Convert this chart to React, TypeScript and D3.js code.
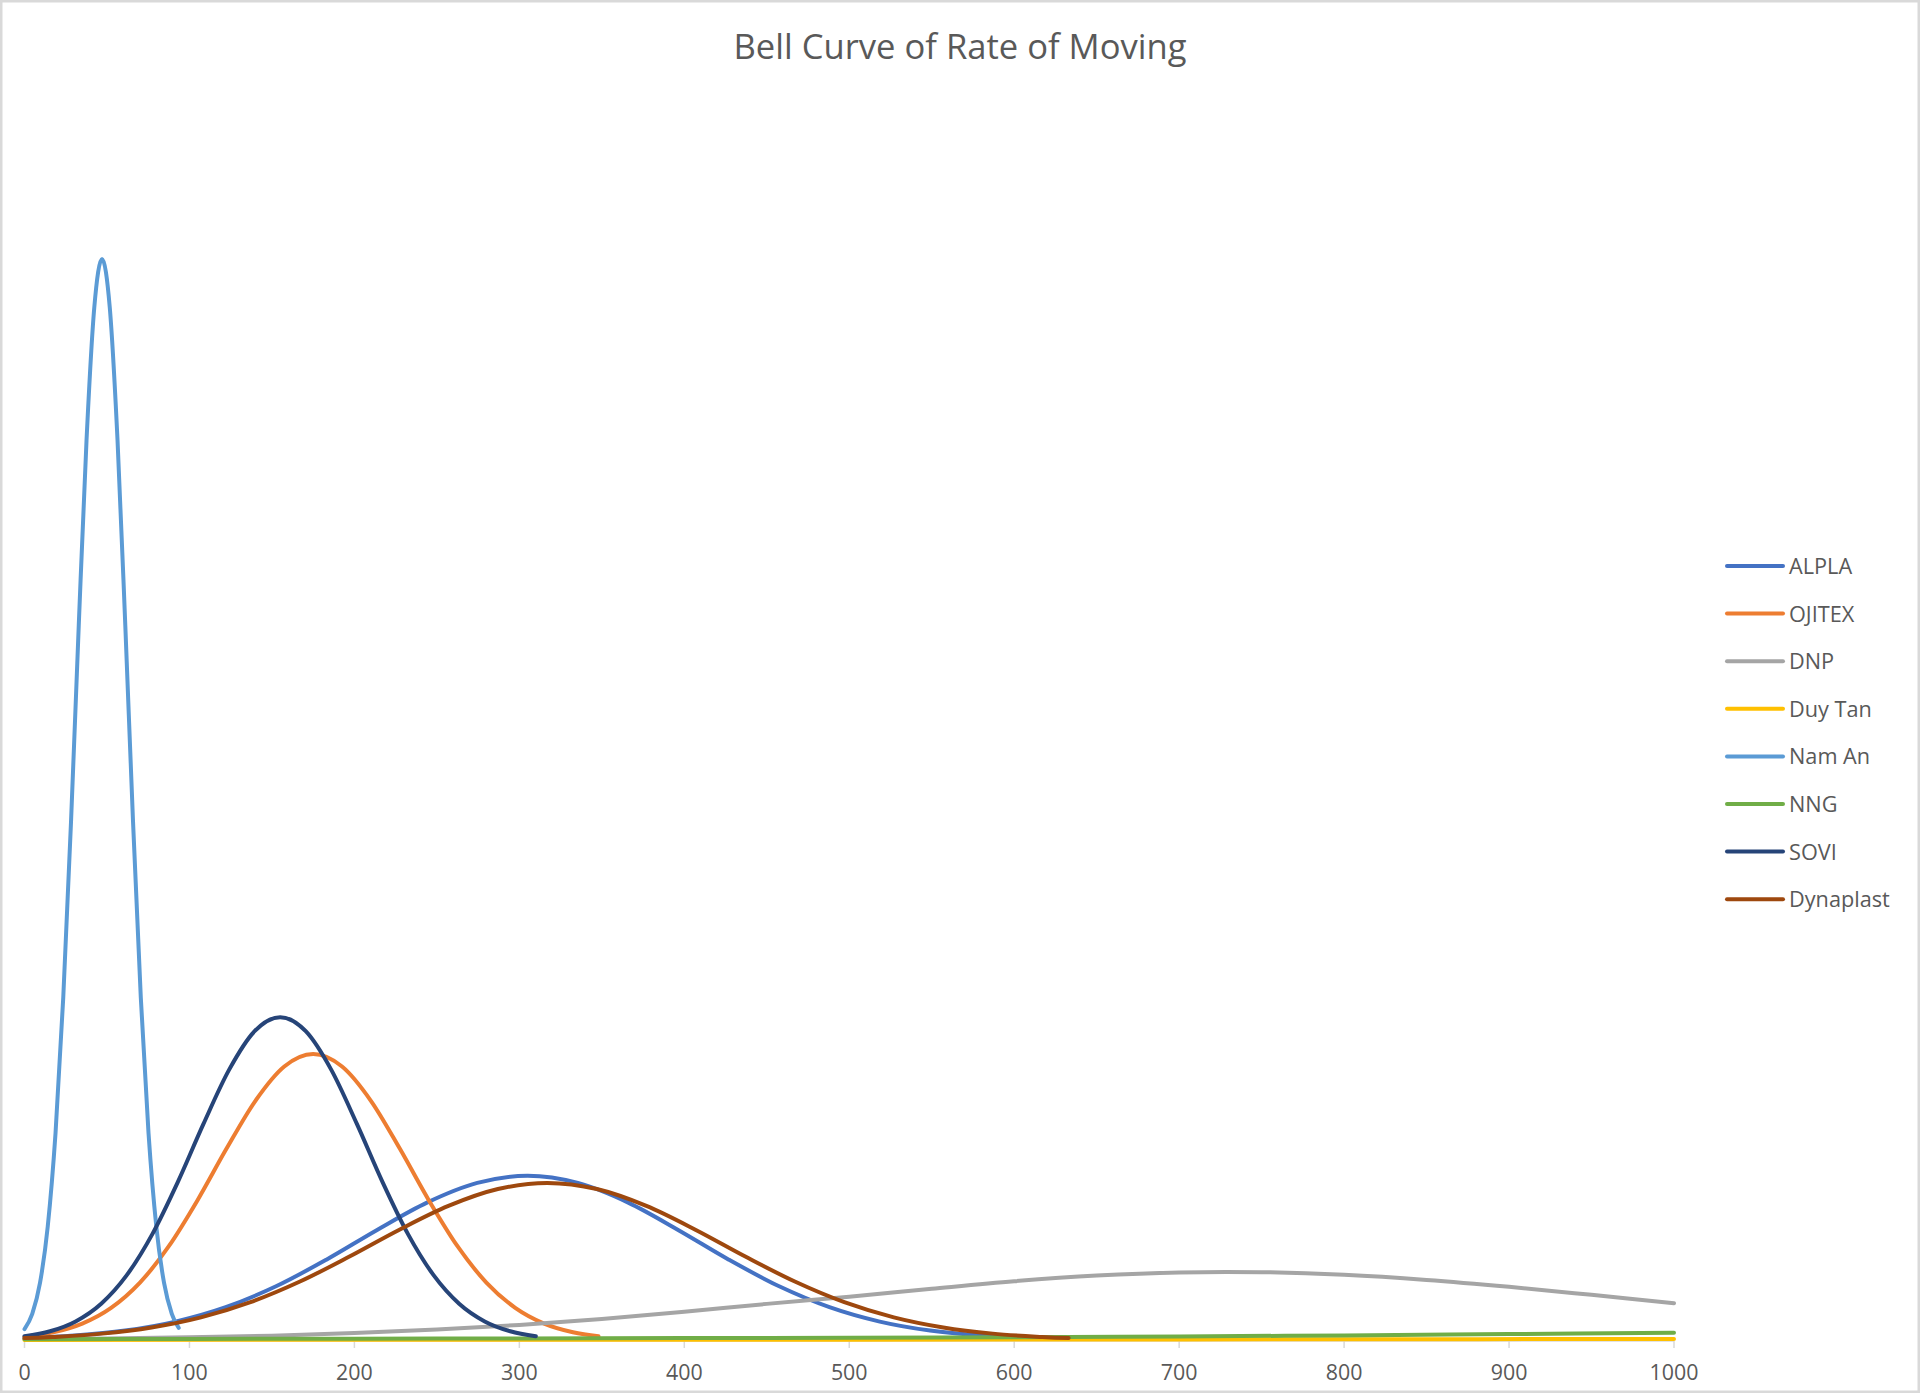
import React, { useEffect } from "react";
import * as d3 from "d3";

// ---- Data (y in density x 1000) ----
const xTicks = [0, 100, 200, 300, 400, 500, 600, 700, 800, 900, 1000];

const alpla: [number, number][] = [
  [0, 0.045], [30.5, 0.105], [61, 0.224], [91.5, 0.438], [122, 0.782], [152.5, 1.279],
  [183, 1.913], [213.5, 2.615], [244, 3.271], [274.5, 3.74], [305, 3.911], [335.5, 3.74],
  [366, 3.271], [396.5, 2.615], [427, 1.913], [457.5, 1.279], [488, 0.782], [518.5, 0.438],
  [549, 0.224], [579.5, 0.105], [610, 0.045],
];
const ojitex: [number, number][] = [
  [0, 0.079], [17.5, 0.184], [35, 0.392], [52.5, 0.766], [70, 1.368], [87.5, 2.233],
  [105, 3.335], [122.5, 4.557], [140, 5.695], [157.5, 6.511], [175, 6.808], [192.5, 6.511],
  [210, 5.695], [227.5, 4.557], [245, 3.335], [262.5, 2.233], [280, 1.368], [297.5, 0.766],
  [315, 0.392], [332.5, 0.184], [348, 0.087],
];
const dnp: [number, number][] = [
  [0, 0.021], [50, 0.037], [100, 0.063], [150, 0.104], [200, 0.164], [250, 0.248],
  [300, 0.36], [350, 0.501], [400, 0.67], [450, 0.86], [500, 1.03], [550, 1.22],
  [600, 1.4], [650, 1.535], [700, 1.61], [750, 1.615], [800, 1.552], [850, 1.431],
  [900, 1.267], [950, 1.075], [1000, 0.876],
];
const duyTan: [number, number][] = [
  [0, 0.002], [200, 0.004], [400, 0.007], [600, 0.011], [800, 0.017], [1000, 0.026],
];
const namAn: [number, number][] = [
  [0, 0.259], [4.7, 0.621], [9.4, 1.358], [14.1, 2.705], [18.8, 4.919], [23.5, 8.157],
  [28.2, 12.337], [32.9, 17.02], [37.6, 21.42], [42.3, 24.58], [47, 25.74], [51.7, 24.58],
  [56.4, 21.42], [61.1, 17.02], [65.8, 12.337], [70.5, 8.157], [75.2, 4.919], [79.9, 2.705],
  [84.6, 1.358], [89.3, 0.621], [93.5, 0.29],
];
const nng: [number, number][] = [
  [0, 0.02], [100, 0.025], [200, 0.03], [300, 0.037], [400, 0.045], [500, 0.055],
  [600, 0.068], [700, 0.085], [800, 0.11], [900, 0.14], [1000, 0.175],
];
const sovi: [number, number][] = [
  [0, 0.089], [15.5, 0.208], [31, 0.443], [46.5, 0.864], [62, 1.544], [77.5, 2.521],
  [93, 3.766], [108.5, 5.146], [124, 6.431], [139.5, 7.352], [155, 7.687], [170.5, 7.352],
  [186, 6.431], [201.5, 5.146], [217, 3.766], [232.5, 2.521], [248, 1.544], [263.5, 0.864],
  [279, 0.443], [294.5, 0.208], [310, 0.089],
];
const dynaplast: [number, number][] = [
  [0, 0.045], [17, 0.072], [47, 0.152], [77, 0.298], [107, 0.539], [137, 0.901],
  [167, 1.392], [197, 1.987], [227, 2.62], [257, 3.192], [287, 3.594], [317, 3.739],
  [347, 3.594], [377, 3.192], [407, 2.62], [437, 1.987], [467, 1.392], [497, 0.901],
  [527, 0.539], [557, 0.298], [587, 0.152], [617, 0.072], [633, 0.047],
];

const seriesNames = ["ALPLA", "OJITEX", "DNP", "Duy Tan", "Nam An", "NNG", "SOVI", "Dynaplast"];
const seriesColors = ["#4472C4", "#ED7D31", "#A5A5A5", "#FFC000", "#5B9BD5", "#70AD47", "#264478", "#9E480E"];
const seriesData = [alpla, ojitex, dnp, duyTan, namAn, nng, sovi, dynaplast];

const W = 1920;
const H = 1393;
const FONT = "'Open Sans', 'Noto Sans', sans-serif";
const TEXT = "#595959";

export default function App() {
  useEffect(() => {
    document.body.style.margin = "0";
  }, []);

  const x = d3.scaleLinear().domain([0, 1000]).range([24.5, 1674]);
  const y = d3.scaleLinear().domain([0, 29.5]).range([1340, 101]);
  const line = d3
    .line<[number, number]>()
    .x((d) => x(d[0]))
    .y((d) => y(d[1]))
    .curve(d3.curveCatmullRom.alpha(0));

  const axisY = 1341;
  const legendX0 = 1727;
  const legendX1 = 1783;
  const legendY0 = 566;
  const legendStep = 47.6;

  return (
    <svg width={W} height={H} style={{ display: "block" }} fontFamily={FONT}>
      <rect x={0} y={0} width={W} height={H} fill="#ffffff" />
      <rect x={1.25} y={1.25} width={W - 2.5} height={H - 2.5} fill="none" stroke="#d9d9d9" strokeWidth={2.5} />
      <text x={960} y={59} textAnchor="middle" fontSize={34.6} fill={TEXT}>
        Bell Curve of Rate of Moving
      </text>

      {/* x axis */}
      <line x1={x(0)} x2={x(1000)} y1={axisY} y2={axisY} stroke="#d9d9d9" strokeWidth={1.5} />
      {xTicks.map((t) => (
        <g key={t}>
          <line x1={x(t)} x2={x(t)} y1={axisY} y2={axisY + 7} stroke="#d9d9d9" strokeWidth={1.5} />
          <text x={x(t)} y={1380} textAnchor="middle" fontSize={21.4} fill={TEXT}>
            {t}
          </text>
        </g>
      ))}

      {/* series */}
      {seriesData.map((d, i) => (
        <path
          key={seriesNames[i]}
          d={line(d) || ""}
          fill="none"
          stroke={seriesColors[i]}
          strokeWidth={4}
          strokeLinecap="round"
          strokeLinejoin="round"
        />
      ))}

      {/* legend */}
      {seriesNames.map((n, i) => {
        const ly = legendY0 + i * legendStep;
        return (
          <g key={n}>
            <line x1={legendX0} x2={legendX1} y1={ly} y2={ly} stroke={seriesColors[i]} strokeWidth={4} strokeLinecap="round" />
            <text x={1789} y={ly + 8} fontSize={21.7} fill={TEXT}>
              {n}
            </text>
          </g>
        );
      })}
    </svg>
  );
}
